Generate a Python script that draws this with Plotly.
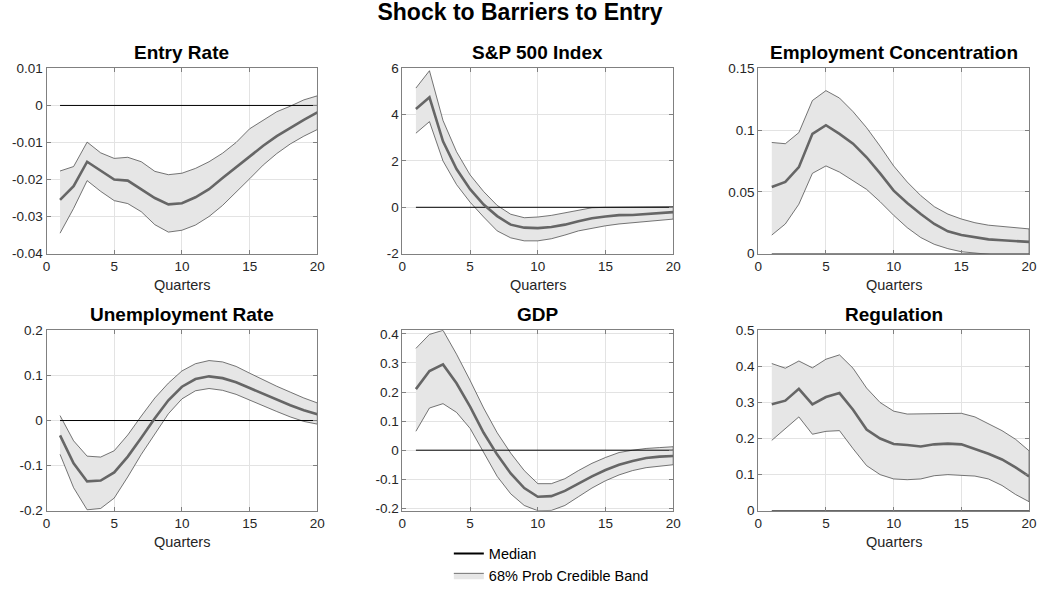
import plotly.graph_objects as go

# ---------------------------------------------------------------------------
# Impulse responses to a shock to barriers to entry (median + 68% band)
# ---------------------------------------------------------------------------
quarters = list(range(1, 21))

entry_med = [-0.0255, -0.0218, -0.0152, -0.0177, -0.0200, -0.0203, -0.0226, -0.0250, -0.0267, -0.0264,
             -0.0248, -0.0226, -0.0196, -0.0167, -0.0139, -0.0109, -0.0083, -0.0060, -0.0039, -0.0019]
entry_hi = [-0.0177, -0.0165, -0.0099, -0.0128, -0.0143, -0.0140, -0.0152, -0.0178, -0.0187, -0.0183,
            -0.0170, -0.0152, -0.0129, -0.0100, -0.0063, -0.0039, -0.0017, -0.0002, 0.0015, 0.0026]
entry_lo = [-0.0345, -0.0278, -0.0203, -0.0232, -0.0257, -0.0265, -0.0287, -0.0322, -0.0342, -0.0337,
            -0.0323, -0.0300, -0.0270, -0.0235, -0.0198, -0.0161, -0.0130, -0.0104, -0.0083, -0.0065]

sp_med = [4.25, 4.75, 2.85, 1.65, 0.78, 0.12, -0.38, -0.75, -0.88, -0.90,
          -0.85, -0.75, -0.60, -0.47, -0.40, -0.34, -0.33, -0.30, -0.26, -0.21]
sp_hi = [5.15, 5.90, 3.75, 2.40, 1.40, 0.68, 0.08, -0.30, -0.45, -0.42,
         -0.35, -0.25, -0.13, -0.02, 0.00, 0.01, 0.02, 0.03, 0.03, 0.03]
sp_lo = [3.20, 3.70, 2.00, 0.98, 0.22, -0.42, -1.02, -1.32, -1.45, -1.45,
         -1.36, -1.20, -1.02, -0.90, -0.80, -0.72, -0.66, -0.61, -0.56, -0.51]

emp_med = [0.054, 0.058, 0.070, 0.097, 0.104, 0.097, 0.089, 0.078, 0.065, 0.051,
           0.041, 0.032, 0.024, 0.018, 0.015, 0.013, 0.0115, 0.0108, 0.0102, 0.0095]
emp_hi = [0.090, 0.089, 0.098, 0.124, 0.132, 0.126, 0.115, 0.102, 0.087, 0.071,
          0.058, 0.047, 0.038, 0.032, 0.028, 0.025, 0.023, 0.022, 0.021, 0.020]
emp_lo = [0.015, 0.024, 0.040, 0.065, 0.071, 0.066, 0.059, 0.052, 0.042, 0.031,
          0.021, 0.013, 0.0075, 0.004, 0.0015, 0.0003, -0.0007, -0.0017, -0.0027, -0.0037]

unemp_med = [-0.033, -0.095, -0.135, -0.133, -0.115, -0.080, -0.038, 0.005, 0.045, 0.075,
             0.092, 0.098, 0.094, 0.085, 0.072, 0.059, 0.046, 0.034, 0.023, 0.014]
unemp_hi = [0.011, -0.045, -0.079, -0.081, -0.067, -0.032, 0.010, 0.050, 0.083, 0.110,
            0.126, 0.133, 0.130, 0.120, 0.105, 0.090, 0.076, 0.063, 0.050, 0.039]
unemp_lo = [-0.075, -0.149, -0.198, -0.195, -0.172, -0.125, -0.075, -0.030, 0.015, 0.048,
            0.066, 0.071, 0.067, 0.058, 0.046, 0.033, 0.020, 0.008, -0.002, -0.008]

gdp_med = [0.210, 0.272, 0.295, 0.230, 0.150, 0.060, -0.015, -0.080, -0.130, -0.160,
           -0.158, -0.140, -0.115, -0.090, -0.068, -0.050, -0.037, -0.027, -0.022, -0.020]
gdp_hi = [0.350, 0.398, 0.412, 0.330, 0.240, 0.145, 0.060, -0.010, -0.070, -0.115,
          -0.115, -0.098, -0.070, -0.045, -0.025, -0.008, 0.000, 0.006, 0.009, 0.012]
gdp_lo = [0.065, 0.145, 0.160, 0.130, 0.075, -0.010, -0.090, -0.150, -0.190, -0.208,
          -0.207, -0.190, -0.160, -0.130, -0.105, -0.085, -0.070, -0.060, -0.055, -0.050]

reg_med = [0.295, 0.305, 0.338, 0.295, 0.315, 0.326, 0.280, 0.225, 0.200, 0.185,
           0.182, 0.178, 0.184, 0.186, 0.184, 0.172, 0.158, 0.142, 0.120, 0.095]
reg_hi = [0.408, 0.395, 0.415, 0.396, 0.420, 0.432, 0.395, 0.340, 0.300, 0.276,
          0.268, 0.269, 0.270, 0.270, 0.270, 0.260, 0.242, 0.222, 0.198, 0.166]
reg_lo = [0.195, 0.228, 0.260, 0.212, 0.220, 0.222, 0.172, 0.125, 0.100, 0.088,
          0.086, 0.088, 0.097, 0.100, 0.098, 0.096, 0.088, 0.070, 0.045, 0.025]

baseline = [0.0] * len(quarters)

panel_titles = ["Entry Rate", "S&P 500 Index", "Employment Concentration",
                "Unemployment Rate", "GDP", "Regulation"]

x_ticks = [0, 5, 10, 15, 20]
x_tick_text = ["0", "5", "10", "15", "20"]

entry_ticks = [-0.04, -0.03, -0.02, -0.01, 0, 0.01]
entry_tick_text = ["-0.04", "-0.03", "-0.02", "-0.01", "0", "0.01"]
sp_ticks = [-2, 0, 2, 4, 6]
sp_tick_text = ["-2", "0", "2", "4", "6"]
emp_ticks = [0, 0.05, 0.1, 0.15]
emp_tick_text = ["0", "0.05", "0.1", "0.15"]
unemp_ticks = [-0.2, -0.1, 0, 0.1, 0.2]
unemp_tick_text = ["-0.2", "-0.1", "0", "0.1", "0.2"]
gdp_ticks = [-0.2, -0.1, 0, 0.1, 0.2, 0.3, 0.4]
gdp_tick_text = ["-0.2", "-0.1", "0", "0.1", "0.2", "0.3", "0.4"]
reg_ticks = [0, 0.1, 0.2, 0.3, 0.4, 0.5]
reg_tick_text = ["0", "0.1", "0.2", "0.3", "0.4", "0.5"]

panels = [
    (entry_med, entry_lo, entry_hi, [-0.04, 0.01], entry_ticks, entry_tick_text),
    (sp_med, sp_lo, sp_hi, [-2, 6], sp_ticks, sp_tick_text),
    (emp_med, emp_lo, emp_hi, [0, 0.15], emp_ticks, emp_tick_text),
    (unemp_med, unemp_lo, unemp_hi, [-0.2, 0.2], unemp_ticks, unemp_tick_text),
    (gdp_med, gdp_lo, gdp_hi, [min(gdp_lo), max(gdp_hi)], gdp_ticks, gdp_tick_text),
    (reg_med, reg_lo, reg_hi, [0, 0.5], reg_ticks, reg_tick_text),
]

# ---------------------------------------------------------------------------
# Layout geometry (pixels in a 1045 x 592 page)
# ---------------------------------------------------------------------------
W, H = 1045, 592
col_px = [(43, 317), (403, 677), (763, 1037)]
row_px = [(64, 257), (337, 525)]

FONT = "Liberation Sans, Arial, Helvetica, sans-serif"
BAND_FILL = "#e6e6e6"
BAND_EDGE = "#3c3c3c"
MEDIAN_COLOR = "#666666"
AXIS_COLOR = "#808080"
GRID_COLOR = "#e3e3e3"
TEXT_COLOR = "#262626"

fig = go.Figure()
annotations = []

for i, (med, lo, hi, yrange, yticks, yticktext) in enumerate(panels):
    r, c = divmod(i, 3)
    suffix = "" if i == 0 else str(i + 1)
    xref, yref = "x" + suffix, "y" + suffix

    # credible band as a closed polygon
    fig.add_trace(go.Scatter(
        x=quarters + quarters[::-1], y=hi + lo[::-1],
        fill="toself", fillcolor=BAND_FILL,
        line=dict(color=BAND_EDGE, width=0.7),
        mode="lines", name="68% Prob Credible Band",
        showlegend=(i == 0), legendrank=2, hoverinfo="skip",
        xaxis=xref, yaxis=yref,
    ))
    # zero reference
    fig.add_trace(go.Scatter(
        x=quarters, y=baseline, mode="lines",
        line=dict(color="black", width=1), showlegend=False,
        hoverinfo="skip", xaxis=xref, yaxis=yref,
    ))
    # median response
    fig.add_trace(go.Scatter(
        x=quarters, y=med, mode="lines",
        line=dict(color=MEDIAN_COLOR, width=2.6), showlegend=False,
        name="Median", xaxis=xref, yaxis=yref,
    ))

    x0, x1 = col_px[c]
    top, bot = row_px[r]
    xdom = [x0 / W, x1 / W]
    ydom = [1 - bot / H, 1 - top / H]

    common = dict(
        showline=True, linecolor=AXIS_COLOR, linewidth=1, mirror="ticks",
        ticks="inside", ticklen=4, tickcolor=AXIS_COLOR, tickwidth=1,
        showgrid=True, gridcolor=GRID_COLOR, gridwidth=1, zeroline=False,
        tickfont=dict(family=FONT, size=13.5, color=TEXT_COLOR),
    )
    fig.update_layout({
        "xaxis" + suffix: dict(
            domain=xdom, range=[0, 20], tickmode="array",
            tickvals=x_ticks, ticktext=x_tick_text,
            anchor=yref, **common),
        "yaxis" + suffix: dict(
            domain=ydom, range=yrange, tickmode="array",
            tickvals=yticks, ticktext=yticktext,
            anchor=xref, **common),
    })

    annotations.append(dict(
        text="<b>%s</b>" % panel_titles[i].replace("&", "&amp;"),
        x=(xdom[0] + xdom[1]) / 2, y=ydom[1], xref="paper", yref="paper",
        xanchor="center", yanchor="bottom", yshift=3, showarrow=False,
        font=dict(family=FONT, size=19, color="black"),
    ))
    if i != 4:
        annotations.append(dict(
            text="Quarters",
            x=(xdom[0] + xdom[1]) / 2, y=1 - (bot + 33) / H,
            xref="paper", yref="paper", xanchor="center", yanchor="middle",
            showarrow=False, font=dict(family=FONT, size=14.5, color=TEXT_COLOR),
        ))

# legend entry for the median line
fig.add_trace(go.Scatter(
    x=[None], y=[None], mode="lines", name="Median",
    line=dict(color="black", width=2), legendrank=1, showlegend=True,
))

fig.update_layout(
    width=W, height=H, autosize=False,
    margin=dict(l=0, r=0, t=0, b=0),
    paper_bgcolor="white", plot_bgcolor="white",
    title=dict(
        text="<b>Shock to Barriers to Entry</b>",
        x=520 / W, xanchor="center", y=1 - 12 / H, yanchor="middle",
        font=dict(family=FONT, size=23, color="black"),
    ),
    annotations=annotations,
    showlegend=True,
    legend=dict(
        x=450 / W, y=1 - 553 / H, xanchor="left", yanchor="top",
        bgcolor="rgba(255,255,255,0)", borderwidth=0,
        font=dict(family=FONT, size=14.5, color="black"),
        itemwidth=30, tracegroupgap=0,
    ),
)

fig.write_html("out.html")
